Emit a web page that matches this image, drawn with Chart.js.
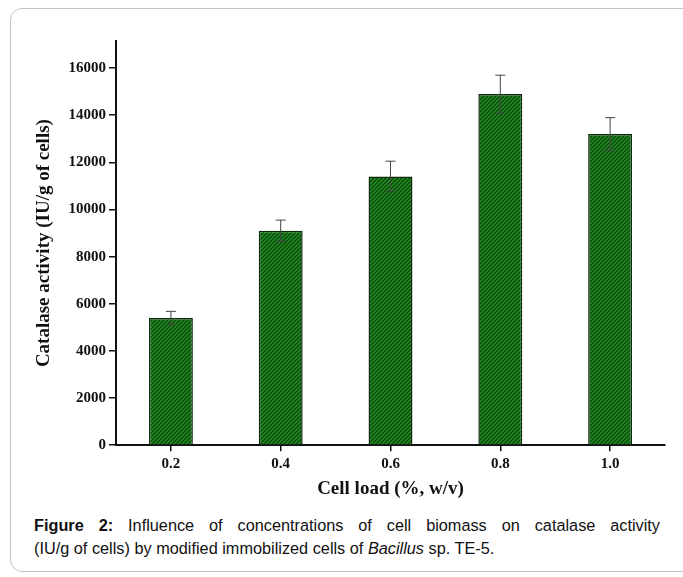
<!DOCTYPE html>
<html>
<head>
<meta charset="utf-8">
<script src="https://cdn.jsdelivr.net/npm/chart.js@4.4.0/dist/chart.umd.min.js"></script>
<style>
  body { margin: 0; background: #fff; width: 683px; height: 577px; overflow: hidden; position: relative; }
  #frame { position: absolute; left: 10px; top: 8px; width: 700px; height: 562px; border: 1.5px solid #c4c4c4; border-radius: 12px; }
  #wrap { position: absolute; left: 0; top: 0; width: 683px; height: 500px; }
  #caption { position: absolute; left: 34px; top: 514px; width: 626px; font-family: "Liberation Sans", Arial, sans-serif; font-size: 16.3px; line-height: 23px; color: #111; }
  #caption .l1 { text-align: justify; text-align-last: justify; }
</style>
</head>
<body>
<div id="frame"></div>
<div id="wrap"><canvas id="catalaseChart"></canvas></div>
<div id="caption">
  <div class="l1"><b>Figure 2:</b> Influence of concentrations of cell biomass on catalase activity</div>
  <div>(IU/g of cells) by modified immobilized cells of <i>Bacillus</i> sp. TE-5.</div>
</div>
<script>
const cellLoads = ['0.2', '0.4', '0.6', '0.8', '1.0'];
const activity = [5400, 9100, 11400, 14900, 13200];
const activityErr = [280, 450, 650, 800, 700];
const yTicks = [0, 2000, 4000, 6000, 8000, 10000, 12000, 14000, 16000];

function makeHatch() {
    const c = document.createElement('canvas');
    c.width = 4;
    c.height = 4;
    const g = c.getContext('2d');
    g.fillStyle = '#1e8c1e';
    g.fillRect(0, 0, 4, 4);
    g.strokeStyle = '#0c3a0c';
    g.lineWidth = 1.2;
    g.beginPath();
    g.moveTo(0, 4); g.lineTo(4, 0);
    g.moveTo(-1, 1); g.lineTo(1, -1);
    g.moveTo(3, 5); g.lineTo(5, 3);
    g.stroke();
    return document.getElementById('catalaseChart').getContext('2d').createPattern(c, 'repeat');
}

// error bars drawn from the y scale
const errorBars = {
    id: 'errorBars',
    afterDatasetsDraw(chart) {
        const ctx = chart.ctx;
        const y = chart.scales.y;
        const meta = chart.getDatasetMeta(0);
        ctx.save();
        ctx.strokeStyle = '#444';
        ctx.lineWidth = 1;
        meta.data.forEach((bar, i) => {
            const top = y.getPixelForValue(activity[i] + activityErr[i]);
            const bot = y.getPixelForValue(activity[i] - activityErr[i]);
            ctx.beginPath();
            ctx.moveTo(bar.x, top); ctx.lineTo(bar.x, bot);
            ctx.moveTo(bar.x - 5, top); ctx.lineTo(bar.x + 5, top);
            ctx.moveTo(bar.x - 5, bot); ctx.lineTo(bar.x + 5, bot);
            ctx.stroke();
        });
        ctx.restore();
    }
};

const serif = "'Liberation Serif', 'Times New Roman', serif";

new Chart(document.getElementById('catalaseChart'), {
    type: 'bar',
    data: {
        labels: cellLoads,
        datasets: [{
            data: activity,
            backgroundColor: makeHatch(),
            borderColor: '#0b2a0b',
            borderWidth: 1.5,
            barPercentage: 0.8,
            categoryPercentage: 0.5
        }]
    },
    options: {
        responsive: true,
        maintainAspectRatio: false,
        animation: false,
        layout: { padding: { left: 33, top: 41, right: 18, bottom: 0 } },
        plugins: { legend: { display: false }, tooltip: { enabled: false } },
        scales: {
            x: {
                grid: { display: true, drawOnChartArea: false, offset: false, color: '#111', lineWidth: 1.5, tickLength: 6 },
                border: { display: true, color: '#111', width: 2 },
                ticks: { color: '#111', padding: 4, font: { family: serif, size: 15, weight: 'bold' } },
                title: { display: true, text: 'Cell load (%, w/v)', color: '#111', padding: { top: 0, bottom: 0 }, font: { family: serif, size: 19, weight: 'bold' } }
            },
            y: {
                min: 0,
                max: 17150,
                afterBuildTicks(scale) {
                    scale.ticks = yTicks.map(v => ({ value: v }));
                },
                afterFit(scale) { scale.width = 83; },
                grid: { display: true, drawOnChartArea: false, color: '#111', lineWidth: 1.5, tickLength: 7 },
                border: { display: true, color: '#111', width: 2 },
                ticks: { color: '#111', padding: 3, callback: v => String(v), font: { family: serif, size: 15, weight: 'bold' } },
                title: { display: true, text: 'Catalase activity (IU/g of cells)', color: '#111', padding: { top: 0, bottom: 0 }, font: { family: serif, size: 19, weight: 'bold' } }
            }
        }
    },
    plugins: [errorBars]
});
</script>
</body>
</html>
